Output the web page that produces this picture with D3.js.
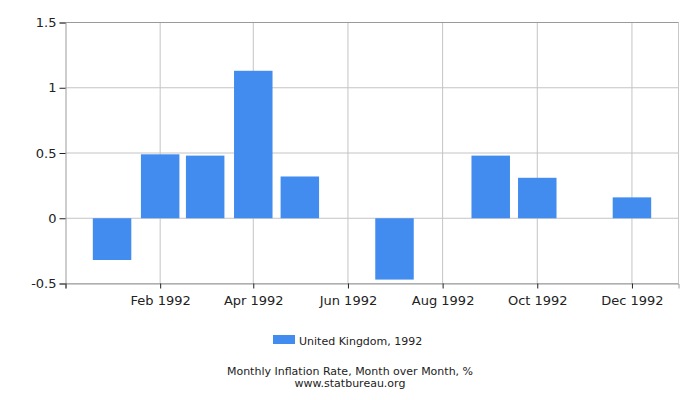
<!DOCTYPE html>
<html>
<head>
<meta charset="utf-8">
<script src="https://cdn.jsdelivr.net/npm/d3@7"></script>
<style>
  body { margin: 0; background: #fff; }
  text { font-family: "DejaVu Sans", Verdana, sans-serif; fill: #222; }
</style>
</head>
<body>
<div id="chart"></div>
<script>
/* chart data */
var months = ["1992-01-01", "1992-02-01", "1992-03-01", "1992-04-01", "1992-05-01", "1992-06-01",
              "1992-07-01", "1992-08-01", "1992-09-01", "1992-10-01", "1992-11-01", "1992-12-01"];
var values = [-0.32, 0.49, 0.48, 1.13, 0.32, 0, -0.47, 0, 0.48, 0.31, 0, 0.16];
var yTicks = [-0.5, 0, 0.5, 1, 1.5];
var xTicks = ["1992-02-01", "1992-04-01", "1992-06-01", "1992-08-01", "1992-10-01", "1992-12-01"];
var seriesName = "United Kingdom, 1992";
var title = "Monthly Inflation Rate, Month over Month, %";
var source = "www.statbureau.org";

var parse = d3.utcParse("%Y-%m-%d");
var data = months.map(function (m, i) { return { date: parse(m), value: values[i] }; });

var width = 700, height = 400;
var plotLeft = 65.5, plotRight = 678.5, plotTop = 22.5, plotBottom = 283.5;

var svg = d3.select("#chart").append("svg")
    .attr("width", width)
    .attr("height", height);

var x = d3.scaleUtc()
    .domain([parse("1991-12-02"), parse("1992-12-31")])
    .range([plotLeft, plotRight]);

var y = d3.scaleLinear()
    .domain([-0.5, 1.5])
    .range([plotBottom, plotTop]);

/* grid */
var grid = svg.append("g");
grid.selectAll("line.h")
  .data(yTicks)
  .enter().append("line")
    .attr("x1", plotLeft).attr("x2", plotRight)
    .attr("y1", function (d) { return y(d); })
    .attr("y2", function (d) { return y(d); })
    .attr("stroke", "#c4c4c4");
grid.selectAll("line.v")
  .data(xTicks)
  .enter().append("line")
    .attr("x1", function (d) { return x(parse(d)); })
    .attr("x2", function (d) { return x(parse(d)); })
    .attr("y1", plotTop).attr("y2", plotBottom)
    .attr("stroke", "#c4c4c4");
/* border */
grid.append("line").attr("x1", plotRight).attr("x2", plotRight).attr("y1", plotTop).attr("y2", plotBottom).attr("stroke", "#c8c8c8");
grid.append("line").attr("x1", plotLeft).attr("x2", plotRight).attr("y1", plotTop).attr("y2", plotTop).attr("stroke", "#9a9a9a");

/* bars */
var barW = 0.8 * (x(parse("1992-02-01")) - x(parse("1992-01-01")));
svg.append("g").selectAll("rect")
  .data(data)
  .enter().append("rect")
    .attr("x", function (d) { return x(d.date) - barW / 2; })
    .attr("width", barW)
    .attr("y", function (d) { return y(Math.max(0, d.value)); })
    .attr("height", function (d) { return Math.abs(y(d.value) - y(0)); })
    .attr("fill", "#428cef");

/* axes */
var yAxis = svg.append("g")
    .attr("transform", "translate(" + plotLeft + ",0)")
    .call(d3.axisLeft(y).tickValues(yTicks).tickSize(6).tickPadding(3)
      .tickFormat(function (d) { return String(d); }));
yAxis.select(".domain").attr("stroke", "#9a9a9a");
yAxis.selectAll(".tick line").attr("stroke", "#222");
yAxis.selectAll("text").style("font-size", "13px").attr("fill", "#222");

var xAxis = svg.append("g")
    .attr("transform", "translate(0," + plotBottom + ")")
    .call(d3.axisBottom(x).tickValues([parse("1991-12-02")].concat(xTicks.map(parse))).tickSize(5).tickPadding(7)
      .tickFormat(function (d, i) { return i === 0 ? "" : d3.utcFormat("%b %Y")(d); }));
xAxis.select(".domain").attr("stroke", "#9a9a9a");
xAxis.selectAll(".tick line").attr("stroke", "#222");
xAxis.selectAll("text").style("font-size", "13px").attr("fill", "#222");

/* legend */
svg.append("rect")
    .attr("x", 273).attr("y", 335)
    .attr("width", 22).attr("height", 9)
    .attr("fill", "#428cef");
svg.append("text")
    .attr("x", 299).attr("y", 344.5)
    .style("font-size", "11px")
    .text(seriesName);

/* titles */
svg.append("text")
    .attr("x", 350).attr("y", 374.5)
    .attr("text-anchor", "middle")
    .style("font-size", "11px")
    .text(title);
svg.append("text")
    .attr("x", 350).attr("y", 386.5)
    .attr("text-anchor", "middle")
    .style("font-size", "11px")
    .text(source);
</script>
</body>
</html>
